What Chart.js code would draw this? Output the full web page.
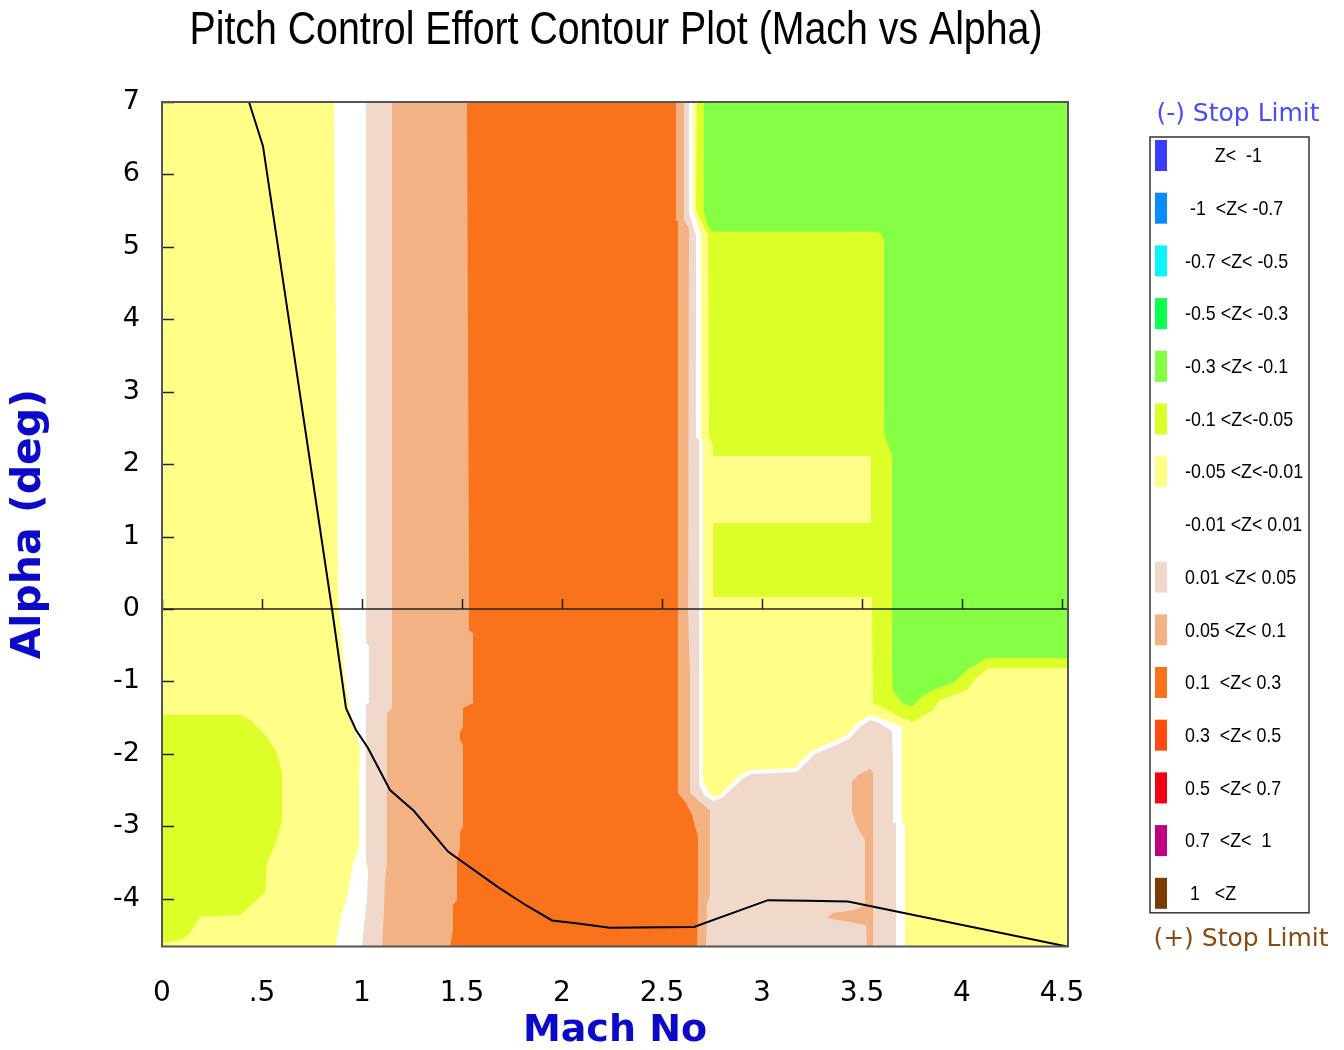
<!DOCTYPE html>
<html>
<head>
<meta charset="utf-8">
<title>Pitch Control Effort Contour Plot</title>
<script src="https://cdn.jsdelivr.net/npm/chart.js@4.4.1/dist/chart.umd.min.js"></script>
<style>
  html, body { margin: 0; padding: 0; background: #ffffff; }
  #wrap { width: 1344px; height: 1050px; position: relative; }
</style>
</head>
<body>
<div id="wrap"><canvas id="chart"></canvas></div>
<script>
// ---- Axes ----
const machTicks = [0, 0.5, 1, 1.5, 2, 2.5, 3, 3.5, 4, 4.5];
const alphaTicks = [-4, -3, -2, -1, 0, 1, 2, 3, 4, 5, 6, 7];
const machRange = [0, 4.53];
const alphaRange = [-4.66, 7];

const chartTitle = 'Pitch Control Effort Contour Plot (Mach vs Alpha)';

// ---- Contour levels (Z = pitch control effort) ----
const binLabels = [
  '      Z<  -1', ' -1  <Z< -0.7', '-0.7 <Z< -0.5', '-0.5 <Z< -0.3', '-0.3 <Z< -0.1',
  '-0.1 <Z<-0.05', '-0.05 <Z<-0.01', '-0.01 <Z< 0.01', '0.01 <Z< 0.05', '0.05 <Z< 0.1',
  '0.1  <Z< 0.3', '0.3  <Z< 0.5', '0.5  <Z< 0.7', '0.7  <Z<  1', ' 1   <Z'
];
const binColors = [
  '#3C3CFF', '#0A8CFF', '#0AF5FA', '#0AFF50', '#84FF44',
  '#DCFF2A', '#FFFF88', '#FFFFFF', '#F0D9CA', '#F2B283',
  '#F9731C', '#FF4A10', '#F00010', '#C0007E', '#7A3C00'
];

// ---- Stop-limit boundary (Mach, Alpha) ----
const stopMach  = [0, 0.435, 0.505, 0.85, 0.92, 0.97, 1.03, 1.14, 1.26, 1.43, 1.68, 1.82, 1.95, 2.07, 2.24, 2.66, 3.03, 3.23, 3.43, 4.525];
const stopAlpha = [7, 7, 6.39, 0, -1.37, -1.67, -1.92, -2.5, -2.79, -3.35, -3.84, -4.09, -4.3, -4.34, -4.4, -4.39, -4.02, -4.03, -4.04, -4.66];

// ---- Contour band outlines, vertices as [Mach, Alpha] ----
const fieldOutline = [[0, 7], [4.53, 7], [4.53, -4.66], [0, -4.66]];

const lowMachPocket = [
  [0, -1.46], [0.39, -1.46], [0.44, -1.53], [0.525, -1.77], [0.575, -1.99], [0.6, -2.27],
  [0.6, -2.91], [0.575, -3.19], [0.525, -3.51], [0.515, -3.91], [0.39, -4.23], [0.19, -4.25],
  [0.14, -4.48], [0.09, -4.57], [0, -4.61]
];

const highMachBelow005 = [
  [2.675, 7], [4.53, 7], [4.53, -0.815], [4.14, -0.815], [4.075, -0.939], [4.025, -1.119],
  [3.89, -1.257], [3.855, -1.395], [3.75, -1.561], [3.69, -1.492], [3.605, -1.367], [3.555, -1.298],
  [3.55, 0.166], [2.755, 0.166], [2.755, 1.188], [3.545, 1.188], [3.545, 2.113], [2.755, 2.113],
  [2.755, 2.265], [2.735, 2.376], [2.73, 5.152], [2.705, 5.304], [2.67, 5.511]
];

const highMachBelow01 = [
  [2.71, 7], [4.53, 7], [4.53, -0.677], [4.125, -0.677], [4.025, -0.843], [3.955, -1.022],
  [3.855, -1.119], [3.79, -1.229], [3.75, -1.354], [3.7, -1.298], [3.655, -1.119], [3.65, -0.843],
  [3.65, 2.127], [3.625, 2.307], [3.61, 2.472], [3.61, 5.097], [3.59, 5.193], [3.555, 5.207],
  [2.755, 5.207], [2.73, 5.29], [2.71, 5.47]
];

const aboveNeg001 = [
  [0.86, 7], [0.88, 0.4], [0.885, -0.014], [0.9, -0.525], [0.915, -0.981], [0.94, -1.436],
  [0.965, -1.671], [0.99, -1.906], [0.985, -2.362], [0.985, -3.287], [0.955, -3.508], [0.94, -3.743],
  [0.925, -3.978], [0.9, -4.199], [0.865, -4.66],
  [3.715, -4.66], [3.715, -2.956], [3.7, -2.956], [3.7, -1.63], [3.64, -1.561], [3.575, -1.492],
  [3.54, -1.464], [3.475, -1.575], [3.425, -1.74], [3.34, -1.851], [3.255, -1.948], [3.19, -2.113],
  [3.165, -2.196], [2.94, -2.224], [2.89, -2.293], [2.855, -2.39], [2.79, -2.569], [2.755, -2.597],
  [2.725, -2.5], [2.705, -2.362], [2.705, 2.265], [2.695, 2.376], [2.695, 5.152], [2.655, 5.511],
  [2.655, 7]
];

const above001 = [
  [1.02, 7], [1.02, -0.47], [1.035, -0.511], [1.035, -1.285], [1.02, -1.326], [1.02, -3.467],
  [1.03, -3.605], [1.025, -4.019], [1.01, -4.365], [1.0, -4.66],
  [3.67, -4.66], [3.67, -2.956], [3.655, -2.956], [3.655, -2.113], [3.65, -1.685], [3.575, -1.561],
  [3.54, -1.533], [3.49, -1.63], [3.435, -1.796], [3.35, -1.906], [3.265, -2.003], [3.205, -2.168],
  [3.175, -2.251], [2.95, -2.279], [2.9, -2.348], [2.865, -2.445], [2.8, -2.61], [2.755, -2.652],
  [2.71, -2.569], [2.685, -2.431], [2.685, 2.334], [2.67, 2.376], [2.67, 5.152], [2.635, 5.47],
  [2.635, 7]
];

const above005 = [
  [1.15, 7], [1.15, -1.367], [1.125, -1.436], [1.125, -3.508], [1.115, -3.743], [1.11, -4.157],
  [1.1, -4.66],
  [2.72, -4.66], [2.725, -4.088], [2.74, -3.95], [2.74, -2.776], [2.69, -2.666], [2.64, -2.541],
  [2.64, -0.939], [2.63, -0.014], [2.635, 5.262], [2.61, 5.373], [2.61, 7]
];

const above01 = [
  [1.525, 7], [1.535, 0.4], [1.535, -0.29], [1.555, -0.331], [1.555, -1.298], [1.505, -1.367],
  [1.505, -1.63], [1.49, -1.699], [1.49, -1.809], [1.505, -1.878], [1.505, -3.011], [1.49, -3.08],
  [1.49, -3.287], [1.475, -3.467], [1.475, -4.019], [1.455, -4.088], [1.455, -4.434], [1.44, -4.66],
  [2.675, -4.66], [2.68, -4.019], [2.68, -3.149], [2.65, -2.845], [2.62, -2.68], [2.58, -2.541],
  [2.58, 5.345], [2.57, 5.373], [2.57, 7]
];

const highMachSpot005 = [
  [3.54, -2.21], [3.555, -2.265], [3.555, -4.66], [3.525, -4.66], [3.52, -4.365], [3.44, -4.323],
  [3.325, -4.268], [3.355, -4.199], [3.465, -4.157], [3.515, -4.088], [3.515, -3.191], [3.49, -3.08],
  [3.465, -2.942], [3.45, -2.776], [3.45, -2.39], [3.48, -2.293]
];

// Painting order: first entry at the bottom
const contourBands = [
  { outline: fieldOutline,     bin: 6 },
  { outline: lowMachPocket,    bin: 5 },
  { outline: highMachBelow005, bin: 5 },
  { outline: highMachBelow01,  bin: 4 },
  { outline: aboveNeg001,      bin: 7 },
  { outline: above001,         bin: 8 },
  { outline: above005,         bin: 9 },
  { outline: above01,          bin: 10 },
  { outline: highMachSpot005,  bin: 9 }
];

const SANS = "'Liberation Sans', Arial, sans-serif";
const WIDE = "'DejaVu Sans', Verdana, sans-serif";

const toXY = (pts) => pts.map(([m, a]) => ({ x: m, y: a }));

const datasets = contourBands.map((band, i) => ({
  label: binLabels[band.bin],
  data: toXY(band.outline),
  showLine: true,
  fill: 'shape',
  backgroundColor: binColors[band.bin],
  borderWidth: 0,
  pointRadius: 0,
  order: 100 - i
}));

datasets.push({
  label: 'Alpha = 0',
  data: [{ x: machRange[0], y: 0 }, { x: machRange[1], y: 0 }],
  showLine: true,
  fill: false,
  borderColor: '#222222',
  borderWidth: 1.5,
  pointRadius: 0,
  order: 1
});

datasets.push({
  label: 'Stop limit',
  data: stopMach.map((m, i) => ({ x: m, y: stopAlpha[i] })),
  showLine: true,
  fill: false,
  borderColor: '#000000',
  borderWidth: 2,
  pointRadius: 0,
  order: 0
});

// Plot frame, inward alpha ticks and Mach ticks on the alpha = 0 line
const frameTicks = {
  id: 'frameTicks',
  afterDatasetsDraw(chart) {
    const { ctx, chartArea: a, scales: { x, y } } = chart;
    ctx.save();
    ctx.strokeStyle = '#222222';
    ctx.lineWidth = 1.5;
    ctx.beginPath();
    alphaTicks.forEach(v => {
      const py = Math.round(y.getPixelForValue(v)) + 0.5;
      ctx.moveTo(a.left, py);
      ctx.lineTo(a.left + 12, py);
    });
    const y0 = y.getPixelForValue(0);
    machTicks.forEach(v => {
      const px = Math.round(x.getPixelForValue(v)) + 0.5;
      ctx.moveTo(px, y0);
      ctx.lineTo(px, y0 - 10);
    });
    ctx.stroke();
    ctx.strokeStyle = '#555555';
    ctx.lineWidth = 2;
    ctx.strokeRect(a.left, a.top, a.right - a.left, a.bottom - a.top);
    ctx.restore();
  }
};

// Condensed heading centred over the plot area
const condensedTitle = {
  id: 'condensedTitle',
  afterDraw(chart) {
    const { ctx, chartArea: a } = chart;
    ctx.save();
    ctx.font = '46px ' + SANS;
    ctx.fillStyle = '#000000';
    ctx.textAlign = 'center';
    ctx.textBaseline = 'middle';
    ctx.fillText(chartTitle, (a.left + a.right) / 2 + 1, 31, 853);
    ctx.restore();
  }
};

// Contour level key at the right of the plot
const levelKey = {
  id: 'levelKey',
  afterDraw(chart) {
    const { ctx, chartArea: a } = chart;
    const left = a.right + 82, top = a.top + 35, width = 159, rowH = 52.7;
    const swH = 31, swW = 12;
    const height = 3 + rowH * (binLabels.length - 1) + swH + 4;
    ctx.save();
    ctx.fillStyle = '#ffffff';
    ctx.fillRect(left, top, width, height);
    ctx.strokeStyle = '#333333';
    ctx.lineWidth = 1.5;
    ctx.strokeRect(left, top, width, height);
    ctx.font = '21px ' + SANS;
    ctx.textBaseline = 'middle';
    ctx.textAlign = 'left';
    binLabels.forEach((lab, i) => {
      const sy = top + 3 + i * rowH;
      ctx.fillStyle = binColors[i];
      ctx.fillRect(left + 5, sy, swW, swH);
      ctx.fillStyle = '#000000';
      ctx.save();
      ctx.translate(left + 35, sy + swH / 2 + 1);
      ctx.scale(0.85, 1);
      ctx.fillText(lab, 0, 0);
      ctx.restore();
    });
    ctx.textAlign = 'center';
    ctx.font = '25px ' + WIDE;
    ctx.fillStyle = '#4B4BFF';
    ctx.fillText('(-) Stop Limit', left + 88, top - 23);
    ctx.fillStyle = '#8A4B10';
    ctx.fillText('(+) Stop Limit', left + 91, top + height + 27);
    ctx.restore();
  }
};

new Chart(document.getElementById('chart'), {
  type: 'scatter',
  data: { datasets },
  options: {
    responsive: true,
    maintainAspectRatio: false,
    animation: false,
    events: [],
    layout: { padding: { left: 0, top: 102, bottom: 0, right: 276 } },
    plugins: {
      legend: { display: false },
      tooltip: { enabled: false },
      title: { display: false }
    },
    scales: {
      x: {
        type: 'linear',
        position: 'bottom',
        min: machRange[0],
        max: machRange[1],
        afterBuildTicks: (s) => { s.ticks = machTicks.map(v => ({ value: v })); },
        afterFit: (s) => { s.height = 103.5; },
        grid: { display: false, drawTicks: false },
        border: { display: false },
        ticks: {
          autoSkip: false,
          maxRotation: 0,
          padding: 30,
          color: '#000000',
          font: { family: WIDE, size: 28 },
          callback: (v) => (v === 0.5 ? '.5' : String(v))
        },
        title: {
          display: true,
          text: 'Mach No',
          color: '#0A0AC8',
          font: { family: WIDE, size: 38, weight: 'bold', lineHeight: 1 },
          padding: { top: 0, bottom: 0 }
        }
      },
      y: {
        type: 'linear',
        position: 'left',
        min: alphaRange[0],
        max: alphaRange[1],
        afterBuildTicks: (s) => { s.ticks = alphaTicks.map(v => ({ value: v })); },
        afterFit: (s) => { s.width = 162; },
        grid: { display: false, drawTicks: false },
        border: { display: false },
        ticks: {
          autoSkip: false,
          padding: 22,
          color: '#000000',
          font: { family: WIDE, size: 27 },
          callback: (v) => String(v)
        },
        title: {
          display: true,
          text: 'Alpha (deg)',
          color: '#0A0AC8',
          font: { family: WIDE, size: 41, weight: 'bold', lineHeight: 1 },
          padding: { top: 9, bottom: 0 }
        }
      }
    }
  },
  plugins: [frameTicks, condensedTitle, levelKey]
});
</script>
</body>
</html>
